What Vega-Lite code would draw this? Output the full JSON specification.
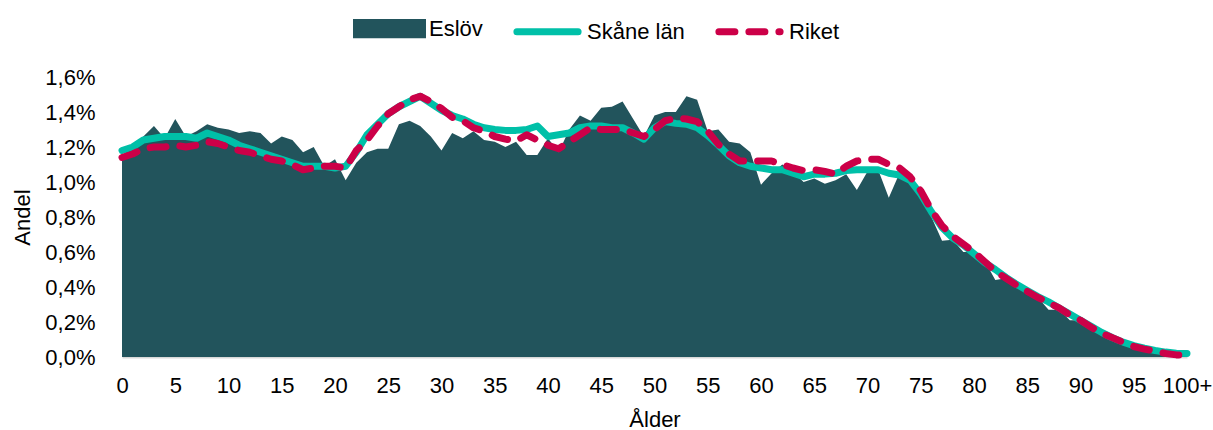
{
  "$schema": "https://vega.github.io/schema/vega-lite/v6.json",
  "width": 1065,
  "height": 280,
  "autosize": {"type": "none"},
  "padding": {"left": 122, "top": 77, "right": 26, "bottom": 73},
  "background": "white",
  "config": {
    "view": {"stroke": null},
    "font": "Liberation Sans",
    "axis": {"labelFont": "Liberation Sans", "titleFont": "Liberation Sans", "labelColor": "#000000", "titleColor": "#000000", "titleFontWeight": "normal", "labelFontSize": 22, "titleFontSize": 22, "grid": false, "ticks": false, "tickSize": 0}
  },
  "data": {
    "values": [
      {"age":0,"Eslöv":1.15,"Skåne län":1.18,"Riket":1.14},
      {"age":1,"Eslöv":1.20,"Skåne län":1.20,"Riket":1.16},
      {"age":2,"Eslöv":1.26,"Skåne län":1.24,"Riket":1.19},
      {"age":3,"Eslöv":1.32,"Skåne län":1.25,"Riket":1.20},
      {"age":4,"Eslöv":1.25,"Skåne län":1.26,"Riket":1.20},
      {"age":5,"Eslöv":1.36,"Skåne län":1.26,"Riket":1.21},
      {"age":6,"Eslöv":1.26,"Skåne län":1.26,"Riket":1.20},
      {"age":7,"Eslöv":1.29,"Skåne län":1.25,"Riket":1.21},
      {"age":8,"Eslöv":1.33,"Skåne län":1.28,"Riket":1.23},
      {"age":9,"Eslöv":1.31,"Skåne län":1.26,"Riket":1.22},
      {"age":10,"Eslöv":1.30,"Skåne län":1.24,"Riket":1.20},
      {"age":11,"Eslöv":1.28,"Skåne län":1.21,"Riket":1.18},
      {"age":12,"Eslöv":1.29,"Skåne län":1.19,"Riket":1.17},
      {"age":13,"Eslöv":1.28,"Skåne län":1.17,"Riket":1.15},
      {"age":14,"Eslöv":1.22,"Skåne län":1.15,"Riket":1.13},
      {"age":15,"Eslöv":1.26,"Skåne län":1.13,"Riket":1.12},
      {"age":16,"Eslöv":1.24,"Skåne län":1.11,"Riket":1.10},
      {"age":17,"Eslöv":1.17,"Skåne län":1.09,"Riket":1.07},
      {"age":18,"Eslöv":1.20,"Skåne län":1.09,"Riket":1.08},
      {"age":19,"Eslöv":1.09,"Skåne län":1.09,"Riket":1.09},
      {"age":20,"Eslöv":1.13,"Skåne län":1.08,"Riket":1.09},
      {"age":21,"Eslöv":1.01,"Skåne län":1.09,"Riket":1.08},
      {"age":22,"Eslöv":1.11,"Skåne län":1.17,"Riket":1.18},
      {"age":23,"Eslöv":1.17,"Skåne län":1.27,"Riket":1.24},
      {"age":24,"Eslöv":1.19,"Skåne län":1.33,"Riket":1.32},
      {"age":25,"Eslöv":1.19,"Skåne län":1.39,"Riket":1.39},
      {"age":26,"Eslöv":1.33,"Skåne län":1.43,"Riket":1.43},
      {"age":27,"Eslöv":1.35,"Skåne län":1.46,"Riket":1.47},
      {"age":28,"Eslöv":1.32,"Skåne län":1.49,"Riket":1.49},
      {"age":29,"Eslöv":1.26,"Skåne län":1.45,"Riket":1.46},
      {"age":30,"Eslöv":1.18,"Skåne län":1.41,"Riket":1.42},
      {"age":31,"Eslöv":1.28,"Skåne län":1.38,"Riket":1.37},
      {"age":32,"Eslöv":1.25,"Skåne län":1.36,"Riket":1.35},
      {"age":33,"Eslöv":1.29,"Skåne län":1.33,"Riket":1.31},
      {"age":34,"Eslöv":1.24,"Skåne län":1.31,"Riket":1.29},
      {"age":35,"Eslöv":1.23,"Skåne län":1.30,"Riket":1.26},
      {"age":36,"Eslöv":1.20,"Skåne län":1.295,"Riket":1.245},
      {"age":37,"Eslöv":1.23,"Skåne län":1.295,"Riket":1.235},
      {"age":38,"Eslöv":1.155,"Skåne län":1.30,"Riket":1.27},
      {"age":39,"Eslöv":1.155,"Skåne län":1.32,"Riket":1.24},
      {"age":40,"Eslöv":1.25,"Skåne län":1.26,"Riket":1.21},
      {"age":41,"Eslöv":1.17,"Skåne län":1.27,"Riket":1.19},
      {"age":42,"Eslöv":1.30,"Skåne län":1.28,"Riket":1.23},
      {"age":43,"Eslöv":1.38,"Skåne län":1.31,"Riket":1.27},
      {"age":44,"Eslöv":1.35,"Skåne län":1.32,"Riket":1.31},
      {"age":45,"Eslöv":1.425,"Skåne län":1.32,"Riket":1.30},
      {"age":46,"Eslöv":1.43,"Skåne län":1.31,"Riket":1.30},
      {"age":47,"Eslöv":1.46,"Skåne län":1.31,"Riket":1.30},
      {"age":48,"Eslöv":1.36,"Skåne län":1.28,"Riket":1.28},
      {"age":49,"Eslöv":1.26,"Skåne län":1.245,"Riket":1.26},
      {"age":50,"Eslöv":1.38,"Skåne län":1.31,"Riket":1.30},
      {"age":51,"Eslöv":1.40,"Skåne län":1.345,"Riket":1.35},
      {"age":52,"Eslöv":1.40,"Skåne län":1.335,"Riket":1.365},
      {"age":53,"Eslöv":1.49,"Skåne län":1.33,"Riket":1.36},
      {"age":54,"Eslöv":1.47,"Skåne län":1.31,"Riket":1.345},
      {"age":55,"Eslöv":1.29,"Skåne län":1.265,"Riket":1.29},
      {"age":56,"Eslöv":1.30,"Skåne län":1.21,"Riket":1.215},
      {"age":57,"Eslöv":1.23,"Skåne län":1.15,"Riket":1.16},
      {"age":58,"Eslöv":1.22,"Skåne län":1.11,"Riket":1.12},
      {"age":59,"Eslöv":1.17,"Skåne län":1.09,"Riket":1.12},
      {"age":60,"Eslöv":0.985,"Skåne län":1.08,"Riket":1.12},
      {"age":61,"Eslöv":1.05,"Skåne län":1.07,"Riket":1.12},
      {"age":62,"Eslöv":1.10,"Skåne län":1.07,"Riket":1.10},
      {"age":63,"Eslöv":1.06,"Skåne län":1.05,"Riket":1.08},
      {"age":64,"Eslöv":1.00,"Skåne län":1.03,"Riket":1.065},
      {"age":65,"Eslöv":1.02,"Skåne län":1.045,"Riket":1.07},
      {"age":66,"Eslöv":0.99,"Skåne län":1.045,"Riket":1.06},
      {"age":67,"Eslöv":1.01,"Skåne län":1.05,"Riket":1.045},
      {"age":68,"Eslöv":1.045,"Skåne län":1.065,"Riket":1.09},
      {"age":69,"Eslöv":0.955,"Skåne län":1.07,"Riket":1.12},
      {"age":70,"Eslöv":1.06,"Skåne län":1.07,"Riket":1.13},
      {"age":71,"Eslöv":1.07,"Skåne län":1.07,"Riket":1.13},
      {"age":72,"Eslöv":0.91,"Skåne län":1.05,"Riket":1.10},
      {"age":73,"Eslöv":1.05,"Skåne län":1.04,"Riket":1.08},
      {"age":74,"Eslöv":1.02,"Skåne län":1.01,"Riket":1.03},
      {"age":75,"Eslöv":0.91,"Skåne län":0.93,"Riket":0.95},
      {"age":76,"Eslöv":0.80,"Skåne län":0.83,"Riket":0.84},
      {"age":77,"Eslöv":0.665,"Skåne län":0.74,"Riket":0.75},
      {"age":78,"Eslöv":0.67,"Skåne län":0.68,"Riket":0.69},
      {"age":79,"Eslöv":0.60,"Skåne län":0.64,"Riket":0.645},
      {"age":80,"Eslöv":0.60,"Skåne län":0.59,"Riket":0.60},
      {"age":81,"Eslöv":0.55,"Skåne län":0.54,"Riket":0.545},
      {"age":82,"Eslöv":0.44,"Skåne län":0.50,"Riket":0.49},
      {"age":83,"Eslöv":0.45,"Skåne län":0.455,"Riket":0.45},
      {"age":84,"Eslöv":0.41,"Skåne län":0.415,"Riket":0.41},
      {"age":85,"Eslöv":0.37,"Skåne län":0.38,"Riket":0.375},
      {"age":86,"Eslöv":0.34,"Skåne län":0.345,"Riket":0.34},
      {"age":87,"Eslöv":0.27,"Skåne län":0.315,"Riket":0.31},
      {"age":88,"Eslöv":0.27,"Skåne län":0.28,"Riket":0.28},
      {"age":89,"Eslöv":0.21,"Skåne län":0.245,"Riket":0.24},
      {"age":90,"Eslöv":0.21,"Skåne län":0.21,"Riket":0.21},
      {"age":91,"Eslöv":0.17,"Skåne län":0.175,"Riket":0.17},
      {"age":92,"Eslöv":0.14,"Skåne län":0.14,"Riket":0.135},
      {"age":93,"Eslöv":0.11,"Skåne län":0.11,"Riket":0.11},
      {"age":94,"Eslöv":0.08,"Skåne län":0.085,"Riket":0.085},
      {"age":95,"Eslöv":0.06,"Skåne län":0.065,"Riket":0.06},
      {"age":96,"Eslöv":0.045,"Skåne län":0.05,"Riket":0.045},
      {"age":97,"Eslöv":0.033,"Skåne län":0.037,"Riket":0.035},
      {"age":98,"Eslöv":0.025,"Skåne län":0.028,"Riket":0.02},
      {"age":99,"Eslöv":0.018,"Skåne län":0.022,"Riket":0.012},
      {"age":100,"Eslöv":0.015,"Skåne län":0.02,"Riket":0.008}
    ]
  },
  "transform": [
    {"fold": ["Eslöv", "Skåne län", "Riket"], "as": ["series", "value"]}
  ],
  "encoding": {
    "x": {
      "field": "age", "type": "quantitative",
      "scale": {"domain": [0, 100], "nice": false, "zero": false},
      "axis": {
        "values": [0,5,10,15,20,25,30,35,40,45,50,55,60,65,70,75,80,85,90,95,100],
        "labelExpr": "datum.value === 100 ? '100+' : datum.label",
        "title": "Ålder", "titlePadding": 13, "labelPadding": 18,
        "domain": true, "domainColor": "#D9D9D9", "domainWidth": 2,
        "labelFlush": false, "labelOverlap": false
      }
    },
    "y": {
      "field": "value", "type": "quantitative",
      "scale": {"domain": [0, 1.6], "nice": false},
      "axis": {
        "values": [0, 0.2, 0.4, 0.6, 0.8, 1.0, 1.2, 1.4, 1.6],
        "labelExpr": "replace(format(datum.value, '.1f'), '.', ',') + '%'",
        "title": "Andel", "titlePadding": 10, "labelPadding": 27,
        "domain": false
      }
    },
    "color": {
      "field": "series", "type": "nominal",
      "scale": {"domain": ["Eslöv", "Skåne län", "Riket"], "range": ["#22545C", "#00C0A8", "#CC0048"]},
      "legend": {
        "orient": "none", "legendX": 230, "legendY": -86, "direction": "horizontal",
        "title": null, "symbolSize": 4624, "labelFontSize": 22, "labelFont": "Liberation Sans",
        "labelColor": "#000000", "labelOffset": 2, "columnPadding": 19, "padding": 0,
        "encode": {
          "symbols": {
            "update": {
              "shape": {"signal": "datum.value === 'Eslöv' ? 'M-0.97,-0.18H0.97V0.18H-0.97Z' : 'M-0.9,0H0.9'"},
              "fill": {"signal": "datum.value === 'Eslöv' ? '#22545C' : 'transparent'"},
              "stroke": {"signal": "datum.value === 'Eslöv' ? 'transparent' : (datum.value === 'Skåne län' ? '#00C0A8' : '#CC0048')"},
              "strokeWidth": {"value": 7},
              "strokeCap": {"value": "round"},
              "strokeDash": {"signal": "datum.value === 'Riket' ? [16, 14] : [1, 0]"},
              "opacity": {"value": 1}
            }
          }
        }
      }
    }
  },
  "layer": [
    {
      "transform": [{"filter": "datum.series === 'Eslöv'"}],
      "mark": {"type": "area", "opacity": 1}
    },
    {
      "transform": [{"filter": "datum.series === 'Skåne län'"}],
      "mark": {"type": "line", "strokeWidth": 7, "strokeCap": "round", "strokeJoin": "round"}
    },
    {
      "transform": [{"filter": "datum.series === 'Riket'"}],
      "mark": {"type": "line", "strokeWidth": 7, "strokeCap": "round", "strokeJoin": "round", "strokeDash": [16, 14]}
    }
  ]
}
